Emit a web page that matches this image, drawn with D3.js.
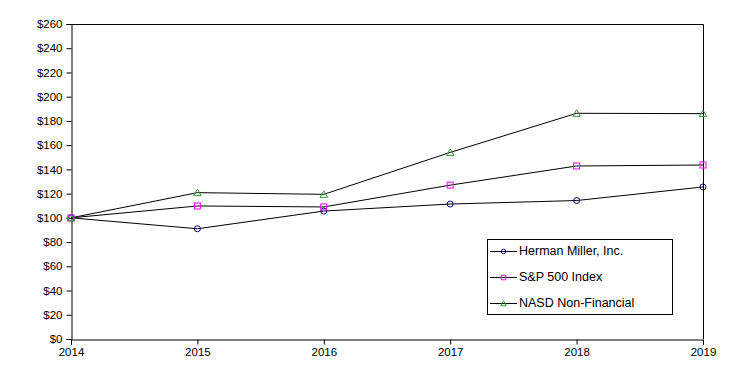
<!DOCTYPE html>
<html>
<head>
<meta charset="utf-8">
<script src="https://cdn.jsdelivr.net/npm/d3@7.9.0/dist/d3.min.js"></script>
<style>
  body { margin: 0; background: #fff; }
  svg { display: block; font-family: Arial, "Liberation Sans", sans-serif; }
</style>
</head>
<body>
<svg id="chart" width="742" height="389"></svg>
<script>
const years = [2014, 2015, 2016, 2017, 2018, 2019];
const hermanMiller = [100, 91, 105.6, 111.4, 114.3, 125.5];
const sp500 = [100, 109.8, 109, 127, 142.8, 143.6];
const nasdNonFin = [100, 120.8, 119.4, 154, 186.3, 186];
const yTicks = d3.range(0, 261, 20);

const series = [
  { name: 'Herman Miller, Inc.', values: hermanMiller, marker: 'circle', color: '#000080' },
  { name: 'S&P 500 Index', values: sp500, marker: 'square', color: '#ff00ff' },
  { name: 'NASD Non-Financial', values: nasdNonFin, marker: 'triangle', color: '#339933' },
];

const svg = d3.select('#chart');
const plotLeft = 71, plotRight = 703, plotTop = 24, plotBottom = 339;

const x = d3.scaleLinear().domain([2014, 2019]).range([plotLeft, plotRight]);
const y = d3.scaleLinear().domain([0, 260]).range([plotBottom, plotTop]);

// frame (top and right edges)
svg.append('path')
  .attr('d', `M${plotLeft},${plotTop + 0.5}H${plotRight + 0.5}V${plotBottom}`)
  .attr('fill', 'none')
  .attr('stroke', '#000')
  .attr('stroke-width', 1);

const yAxis = svg.append('g')
  .attr('transform', `translate(${plotLeft + 0.5},0)`)
  .call(d3.axisLeft(y).tickValues(yTicks).tickSize(5).tickPadding(4).tickFormat((d) => `$${d}`));

const xAxis = svg.append('g')
  .attr('transform', `translate(0,${plotBottom + 0.5})`)
  .call(d3.axisBottom(x).tickValues(years).tickSize(5).tickPadding(3).tickFormat(d3.format('d')));

[yAxis, xAxis].forEach((g) => {
  g.select('.domain').attr('stroke', '#000');
  g.selectAll('.tick line').attr('stroke', '#000');
  g.selectAll('.tick text')
    .attr('fill', '#000')
    .style('font-size', '11.5px')
    .style('font-family', 'Arial, "Liberation Sans", sans-serif');
});

const line = d3.line()
  .x((d, i) => x(years[i]))
  .y((d) => y(d));

function drawMarker(sel, type, color, k = 1) {
  if (type === 'circle') {
    sel.append('circle').attr('r', 3 * k).attr('fill', 'none').attr('stroke', color);
  } else if (type === 'square') {
    sel.append('rect').attr('x', -3 * k).attr('y', -3 * k).attr('width', 6 * k).attr('height', 6 * k)
      .attr('fill', 'none').attr('stroke', color);
  } else {
    sel.append('path').attr('d', `M0,${-3.5 * k}L${3.8 * k},${3 * k}L${-3.8 * k},${3 * k}Z`)
      .attr('fill', 'none').attr('stroke', color);
  }
}

[...series].reverse().forEach((s) => {
  svg.append('path')
    .datum(s.values)
    .attr('d', line)
    .attr('fill', 'none')
    .attr('stroke', '#000')
    .attr('stroke-width', 1);
});

series.forEach((s) => {
  s.values.forEach((v, i) => {
    const g = svg.append('g').attr('transform', `translate(${x(years[i])},${y(v)})`);
    drawMarker(g, s.marker, s.color);
  });
});

// legend
const legend = svg.append('g');
legend.append('rect')
  .attr('x', 487.5).attr('y', 239.5).attr('width', 185).attr('height', 75)
  .attr('fill', '#fff').attr('stroke', '#000');

series.forEach((s, i) => {
  const ly = 251 + i * 26;
  const row = legend.append('g').attr('transform', `translate(0,${ly})`);
  row.append('line').attr('x1', 490).attr('x2', 517).attr('y1', 0.5).attr('y2', 0.5).attr('stroke', '#000');
  drawMarker(row.append('g').attr('transform', 'translate(503.5,0.5)'), s.marker, s.color, 0.75);
  row.append('text')
    .attr('x', 519).attr('y', 0).attr('dy', '0.35em')
    .style('font-size', '12.5px')
    .text(s.name);
});
</script>
</body>
</html>
